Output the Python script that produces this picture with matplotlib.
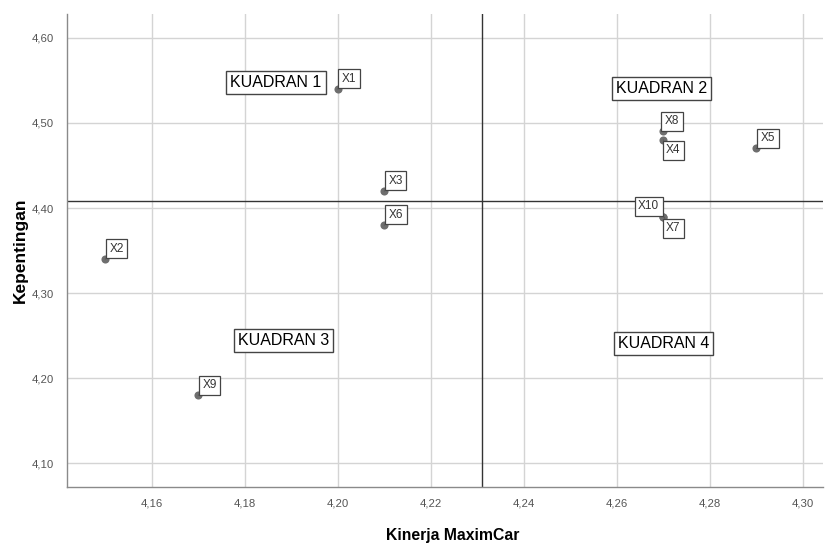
import matplotlib
matplotlib.use("Agg")
import matplotlib.pyplot as plt
from matplotlib.ticker import FuncFormatter

# --- data ---
labels = ["X1", "X2", "X3", "X4", "X5", "X6", "X7", "X8", "X9", "X10"]
kinerja = [4.20, 4.15, 4.21, 4.27, 4.29, 4.21, 4.27, 4.27, 4.17, 4.27]
kepentingan = [4.54, 4.34, 4.42, 4.48, 4.47, 4.38, 4.39, 4.49, 4.18, 4.39]

quadrant_names = ["KUADRAN 1", "KUADRAN 2", "KUADRAN 3", "KUADRAN 4"]
quadrant_x = [4.1867, 4.2696, 4.1884, 4.2700]
quadrant_y = [4.548, 4.541, 4.244, 4.241]

x_ticks = [4.16, 4.18, 4.20, 4.22, 4.24, 4.26, 4.28, 4.30]
y_ticks = [4.10, 4.20, 4.30, 4.40, 4.50, 4.60]

# label offsets (points) and anchor for each point label
label_offsets = {"X4": (2, -3, "left", "top"), "X7": (2, -4, "left", "top"),
                 "X10": (-3, 3, "right", "bottom"), "X8": (1, 3, "left", "bottom")}

plt.rcParams["font.family"] = ["Liberation Sans", "DejaVu Sans"]

fig = plt.figure(figsize=(8.25, 5.43), dpi=100)
ax = fig.add_axes([0.0808, 0.1031, 0.9167, 0.871])

ax.set_xlim(4.1417, 4.3043)
ax.set_ylim(4.0721, 4.628)
ax.set_xticks(x_ticks)
ax.set_yticks(y_ticks)
comma = FuncFormatter(lambda v, p: f"{v:.2f}".replace(".", ","))
ax.xaxis.set_major_formatter(comma)
ax.yaxis.set_major_formatter(comma)
ax.tick_params(length=0, labelsize=8.2, labelcolor="#555555")
ax.tick_params(axis="x", pad=8)
ax.tick_params(axis="y", pad=9)

ax.grid(True, color="#d4d4d4", linewidth=1)
ax.set_axisbelow(True)
for side in ["top", "right"]:
    ax.spines[side].set_visible(False)
for side in ["left", "bottom"]:
    ax.spines[side].set_color("#8a8a8a")
    ax.spines[side].set_linewidth(1)

# mean reference lines
mean_x = sum(kinerja) / len(kinerja)
mean_y = sum(kepentingan) / len(kepentingan)
ax.axvline(mean_x, color="#333333", linewidth=1, zorder=2)
ax.axhline(mean_y, color="#333333", linewidth=1, zorder=2)

ax.scatter(kinerja, kepentingan, s=34, color="#6e6e6e", zorder=3, linewidths=0)

for name, xv, yv in zip(labels, kinerja, kepentingan):
    dx, dy, ha, va = label_offsets.get(name, (3, 3, "left", "bottom"))
    ax.annotate(name, (xv, yv), xytext=(dx, dy), textcoords="offset points",
                ha=ha, va=va, fontsize=8.5, color="#333333", zorder=4,
                bbox=dict(boxstyle="square,pad=0.3", fc="white", ec="#444444", lw=0.9),
                arrowprops=dict(arrowstyle="-", color="#555555", lw=0.8, shrinkA=0, shrinkB=0))

for name, xv, yv in zip(quadrant_names, quadrant_x, quadrant_y):
    ax.text(xv, yv, name, ha="center", va="center", fontsize=11.5, color="black", zorder=4,
            bbox=dict(boxstyle="square,pad=0.25", fc="white", ec="#444444", lw=1))

ax.set_xlabel("Kinerja MaximCar", fontsize=11.3, fontweight="bold")
ax.set_ylabel("Kepentingan", fontsize=12.5, fontweight="bold")
ax.xaxis.set_label_coords(0.511, -0.087)
ax.yaxis.set_label_coords(-0.051, 0.5)

fig.savefig("out.png", dpi=100)
